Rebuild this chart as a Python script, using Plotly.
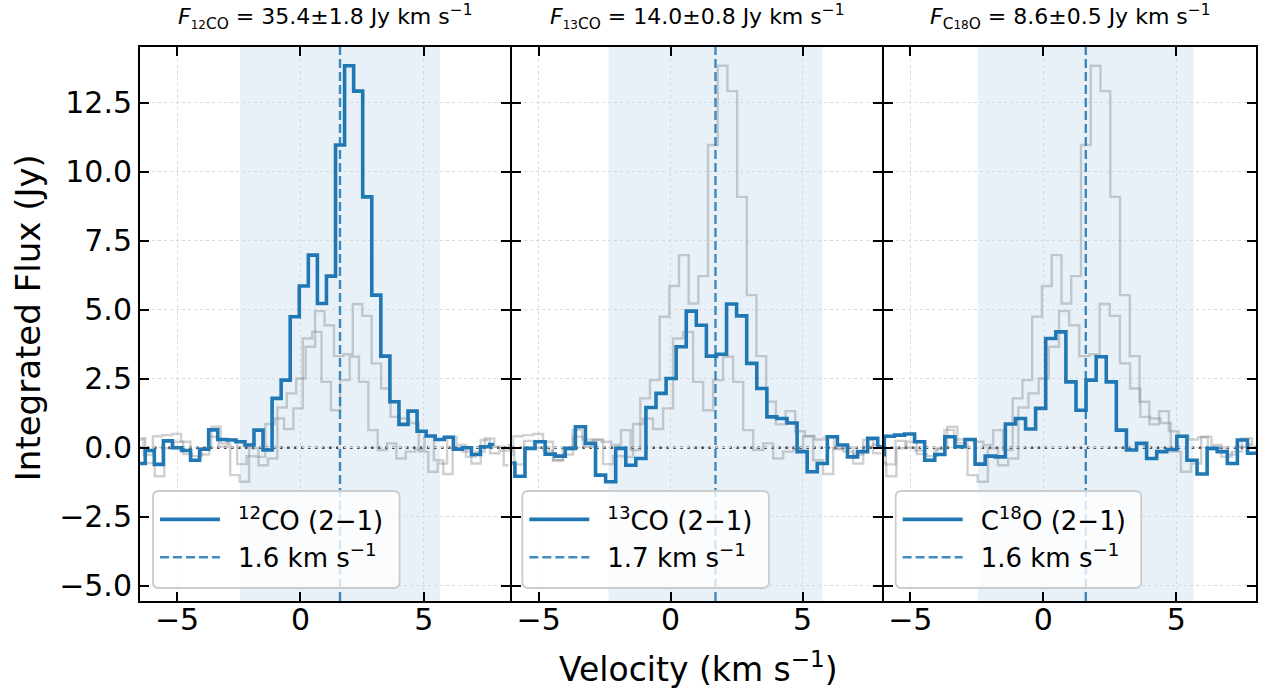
import numpy as np
import plotly.graph_objects as go

# ---------------- data ----------------
# 12CO (2-1): channel grid start / width, integrated flux per channel (Jy)
co12_v0 = -6.838
co12_dv = 0.367
co12_flux = [-0.50, -0.57, -0.10, -0.60, 0.25, 0.00, -0.10, -0.45, -0.05, 0.65,
             0.30, 0.28, 0.22, 0.10, 0.64, -0.08, 1.79, 2.45, 4.75, 5.86,
             6.98, 5.23, 6.22, 10.97, 13.84, 12.92, 9.09, 5.53, 3.32, 1.67,
             0.85, 1.33, 0.60, 0.43, 0.30, 0.38, -0.05, 0.00, -0.24, 0.04,
             0.12]

# 13CO (2-1)
co13_v0 = -6.475
co13_dv = 0.382
co13_flux = [0.35, -0.55, -1.03, -0.02, 0.22, -0.23, -0.30, -0.02, 0.76, 0.16,
             -0.99, -1.23, -0.02, -0.63, -0.39, 1.46, 1.97, 2.51, 3.66, 4.95,
             4.44, 3.32, 3.39, 5.21, 4.78, 3.06, 2.15, 1.12, 1.06, 0.90,
             -0.14, -0.87, -0.57, 0.40, 0.10, -0.33, -0.14, 0.34, 0.04, -0.63]

# C18O (2-1)
c18o_v0 = -6.5445
c18o_dv = 0.3793
c18o_flux = [0.30, -0.25, 0.42, 0.46, 0.50, 0.22, -0.45, -0.24, 0.40, 0.04,
             0.30, -0.59, -0.30, -0.33, 0.86, 1.06, 0.68, 1.43, 3.96, 4.20,
             2.39, 1.36, 2.45, 3.30, 2.39, 0.64, -0.08, 0.16, -0.39, -0.14,
             -0.06, 0.42, -0.45, -0.95, -0.02, -0.14, -0.57, 0.28, -0.20, -0.10,
             0.10]

systemic_v = [1.6, 1.7, 1.6]
mask_halfwidth = 4.05

titles = [
    "<i>F</i><sub><span style='font-size:12px'>12</span>CO</sub> = 35.4±1.8 Jy km s<sup>−1</sup>",
    "<i>F</i><sub><span style='font-size:12px'>13</span>CO</sub> = 14.0±0.8 Jy km s<sup>−1</sup>",
    "<i>F</i><sub>C<span style='font-size:12px'>18</span>O</sub> = 8.6±0.5 Jy km s<sup>−1</sup>",
]
line_names = ["\u2002<sup>12</sup>CO (2−1)", "\u2002<sup>13</sup>CO (2−1)", "\u2002C<sup>18</sup>O (2−1)"]
vel_names = ["\u20021.6 km s<sup>−1</sup>", "\u20021.7 km s<sup>−1</sup>", "\u20021.6 km s<sup>−1</sup>"]

x_ranges = [[-6.5, 8.5], [-6.0, 8.0], [-6.0, 8.0]]
y_range = [-5.55, 14.52]
x_tickvals = [-5, 0, 5]
x_ticktext = ["−5", "0", "5"]
y_tickvals = [-5.0, -2.5, 0.0, 2.5, 5.0, 7.5, 10.0, 12.5]
y_ticktext = ["−5.0", "−2.5", "0.0", "2.5", "5.0", "7.5", "10.0", "12.5"]

# ---------------- build ----------------
spectra = []
for v0, dv, flux in [(co12_v0, co12_dv, co12_flux),
                     (co13_v0, co13_dv, co13_flux),
                     (c18o_v0, c18o_dv, c18o_flux)]:
    vel = v0 + dv * np.arange(len(flux))
    spectra.append((vel, np.array(flux)))

BLUE = "#1f77b4"
GRAY = "rgba(120,125,130,0.36)"
FONT = "DejaVu Sans"

W, H = 1268, 696
ml, mr, mt, mb = 140, 10, 47, 95
pw = W - ml - mr
ph = H - mt - mb
panel_px = [(140, 511), (513, 883), (885, 1258)]
domains = [[(a - ml) / pw, (b - ml) / pw] for a, b in panel_px]


def px_x(px):
    return (px - ml) / pw


def px_y(py):
    return (H - mb - py) / ph


def rounded_rect(x0, y0, x1, y1, r=6):
    pts = [
        f"M{px_x(x0 + r)},{px_y(y0)}",
        f"L{px_x(x1 - r)},{px_y(y0)}",
        f"Q{px_x(x1)},{px_y(y0)} {px_x(x1)},{px_y(y0 + r)}",
        f"L{px_x(x1)},{px_y(y1 - r)}",
        f"Q{px_x(x1)},{px_y(y1)} {px_x(x1 - r)},{px_y(y1)}",
        f"L{px_x(x0 + r)},{px_y(y1)}",
        f"Q{px_x(x0)},{px_y(y1)} {px_x(x0)},{px_y(y1 - r)}",
        f"L{px_x(x0)},{px_y(y0 + r)}",
        f"Q{px_x(x0)},{px_y(y0)} {px_x(x0 + r)},{px_y(y0)}",
        "Z",
    ]
    return " ".join(pts)


fig = go.Figure()
shapes = []
annotations = []
legend_boxes = [(153, 491, 400, 588), (523, 491, 770, 588), (897, 491, 1143, 588)]

for p in range(3):
    xa = "x" if p == 0 else f"x{p+1}"
    ya = "y" if p == 0 else f"y{p+1}"
    leg = "legend" if p == 0 else f"legend{p+1}"
    for q in range(3):
        if q == p:
            continue
        vel, flux = spectra[q]
        fig.add_trace(go.Scatter(x=vel, y=flux, mode="lines", line_shape="hvh",
                                 line=dict(color=GRAY, width=2.4),
                                 xaxis=xa, yaxis=ya, showlegend=False,
                                 hoverinfo="skip"))
    vel, flux = spectra[p]
    fig.add_trace(go.Scatter(x=vel, y=flux, mode="lines", line_shape="hvh",
                             line=dict(color=BLUE, width=3.6),
                             xaxis=xa, yaxis=ya, name=line_names[p],
                             legend=leg, legendgroup=f"a{p}", showlegend=True))
    vs = systemic_v[p]
    fig.add_trace(go.Scatter(x=[vs, vs], y=y_range, mode="lines",
                             line=dict(color="rgba(31,119,180,0.85)", width=2.4,
                                       dash="9px,4px"),
                             xaxis=xa, yaxis=ya, name=vel_names[p],
                             legend=leg, legendgroup=f"b{p}", showlegend=True))
    shapes.append(dict(type="rect", xref=xa, yref="paper",
                       x0=vs - mask_halfwidth, x1=vs + mask_halfwidth, y0=0, y1=1,
                       fillcolor="rgba(31,119,180,0.10)", line=dict(width=0),
                       layer="below"))
    shapes.append(dict(type="line", xref=f"{xa} domain", yref=ya,
                       x0=0, x1=1, y0=0, y1=0,
                       line=dict(color="rgba(60,60,60,0.9)", width=2.6, dash="2.6px,4.4px"),
                       layer="below"))
    annotations.append(dict(text=titles[p], xref="paper", yref="paper",
                            x=(domains[p][0] + domains[p][1]) / 2,
                            y=px_y(17), xanchor="center", yanchor="middle",
                            showarrow=False, font=dict(family=FONT, size=22, color="black")))
    bx0, by0, bx1, by1 = legend_boxes[p]
    shapes.append(dict(type="path", xref="paper", yref="paper",
                       path=rounded_rect(bx0, by0, bx1, by1),
                       fillcolor="rgba(255,255,255,0.8)",
                       line=dict(color="#cccccc", width=1.8), layer="above"))

axis_common = dict(showline=True, mirror="ticks", linecolor="black", linewidth=2,
                   ticks="inside", ticklen=9, tickwidth=2, tickcolor="black",
                   showgrid=True, gridcolor="#d9d9d9", gridwidth=1, griddash="dot",
                   zeroline=False, tickfont=dict(family=FONT, size=30, color="black"))

layout = dict(width=W, height=H, margin=dict(l=ml, r=mr, t=mt, b=mb),
              paper_bgcolor="white", plot_bgcolor="white",
              font=dict(family=FONT, color="black"),
              shapes=shapes)

for p in range(3):
    xk = "xaxis" if p == 0 else f"xaxis{p+1}"
    yk = "yaxis" if p == 0 else f"yaxis{p+1}"
    ya = "y" if p == 0 else f"y{p+1}"
    xa = "x" if p == 0 else f"x{p+1}"
    layout[xk] = dict(axis_common, domain=domains[p], range=x_ranges[p], anchor=ya,
                      tickvals=x_tickvals, ticktext=x_ticktext, ticklabelstandoff=-9)
    layout[yk] = dict(axis_common, domain=[0, 1], range=y_range, anchor=xa,
                      tickvals=y_tickvals, ticktext=y_ticktext,
                      showticklabels=(p == 0))
    lk = "legend" if p == 0 else f"legend{p+1}"
    bx0, by0, bx1, by1 = legend_boxes[p]
    layout[lk] = dict(x=px_x(bx0 + 2), y=px_y(by0 + 5),
                      xanchor="left", yanchor="top", xref="paper", yref="paper",
                      bgcolor="rgba(0,0,0,0)", borderwidth=0,
                      font=dict(family=FONT, size=26, color="black"),
                      itemwidth=60, tracegroupgap=1)

annotations.append(dict(text="Integrated Flux (Jy)", xref="paper", yref="paper",
                        x=px_x(28), y=px_y(318), textangle=-90,
                        xanchor="center", yanchor="middle", showarrow=False,
                        font=dict(family=FONT, size=34, color="black")))
annotations.append(dict(text="Velocity (km s<sup>−1</sup>)", xref="paper", yref="paper",
                        x=px_x(699), y=px_y(667),
                        xanchor="center", yanchor="middle", showarrow=False,
                        font=dict(family=FONT, size=33, color="black")))
layout["annotations"] = annotations

fig.update_layout(**layout)
fig.write_html("out.html", config={"displayModeBar": False},
               post_script="document.body.style.margin='0';document.body.style.padding='0';")
